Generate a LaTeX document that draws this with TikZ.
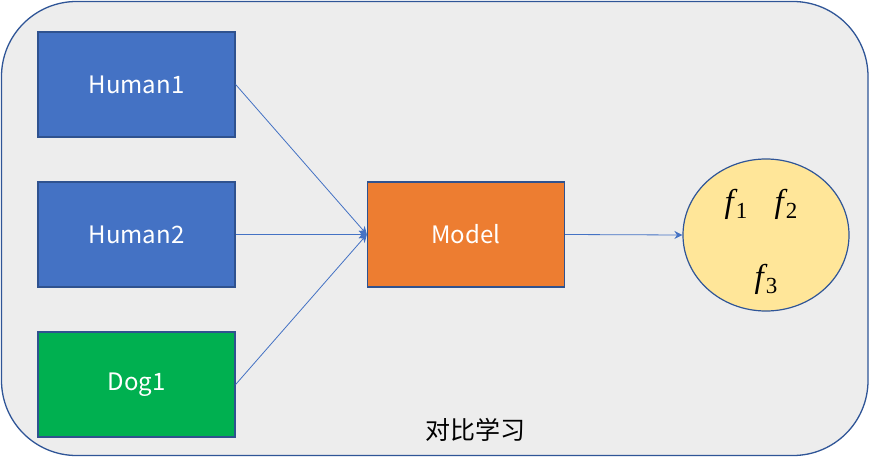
\documentclass[tikz,border=0pt]{standalone}
\usepackage{fontspec}
\setmainfont{Noto Sans CJK SC}
\setsansfont{Noto Sans CJK SC}
\newfontfamily\fmathfont{Liberation Serif}
\usetikzlibrary{arrows.meta,shapes.geometric}
\definecolor{bgray}{HTML}{EDEDED}
\definecolor{frame}{HTML}{2F5597}
\definecolor{oblue}{HTML}{4472C4}
\definecolor{oblueb}{HTML}{2F528F}
\definecolor{oorange}{HTML}{ED7D31}
\definecolor{ogreen}{HTML}{00B050}
\definecolor{oyellow}{HTML}{FFE699}
\newcommand{\fsub}[1]{{\fmathfont\fontsize{33}{36}\selectfont\itshape f}\kern2pt\raisebox{-6pt}{\fmathfont\fontsize{23}{26}\selectfont #1}}
\tikzset{
  box/.style={draw=oblueb, line width=1.3pt, minimum width=197pt, minimum height=105pt,
    inner sep=0pt, text=white, font=\fontsize{24}{28}\selectfont},
  conn/.style={draw=oblue, line width=0.8pt, -{Stealth[length=8pt,width=8pt]}},
  flabel/.style={inner sep=0pt},
}
\begin{document}
\begin{tikzpicture}[x=1pt,y=-1pt]
\useasboundingbox (0,0) rectangle (870,460);
\fill[white] (0,0) rectangle (870,460);
\draw[frame, fill=bgray, line width=1.3pt, rounded corners=75pt] (1.5,1.5) rectangle (868,455.5);
\node[box, fill=oblue] (h1) at (136.5,84.5) {Human1};
\node[box, fill=oblue] (h2) at (136.5,234.5) {Human2};
\node[box, fill=ogreen] (d1) at (136.5,384.5) {Dog1};
\node[box, fill=oorange] (m) at (466,234.5) {Model};
\node[draw=frame, line width=1.2pt, fill=oyellow, ellipse, minimum width=166pt, minimum height=152pt, inner sep=0pt] (f) at (766,235) {};
\node[flabel] (f1) at (736,204) {\fsub{1}};
\node[flabel] (f2) at (786,204) {\fsub{2}};
\node[flabel] (f3) at (766,279) {\fsub{3}};
\node[font=\fontsize{25}{28}\selectfont, text=black] (t) at (475,430) {对比学习};
\draw[conn] (h1.east) -- (m.west);
\draw[conn] (h2.east) -- (m.west);
\draw[conn] (d1.east) -- (m.west);
\draw[conn] (m.east) -- (f.west);
\end{tikzpicture}
\end{document}
